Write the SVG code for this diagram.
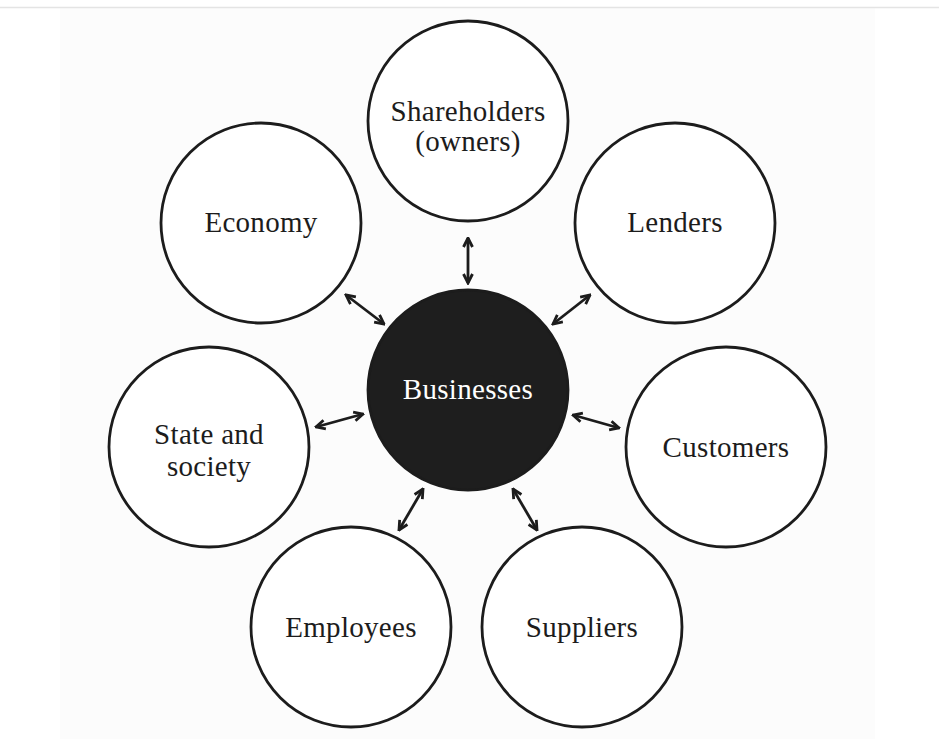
<svg xmlns="http://www.w3.org/2000/svg" width="939" height="739" viewBox="0 0 939 739">
<defs>
<style>
.node circle{fill:#ffffff;stroke:#1c1c1c;stroke-width:2.8}
.node text{font-family:"Liberation Serif","DejaVu Serif",serif;font-size:29px;fill:#1c1c1c;text-anchor:middle;letter-spacing:0.3px}
#businesses circle{fill:#1e1e1e}
#businesses text{fill:#ffffff}
.conn line{stroke:#1c1c1c;stroke-width:2.8;marker-start:url(#ah);marker-end:url(#ah)}
</style>
<marker id="ah" viewBox="0 0 12 12" refX="10.5" refY="6" markerWidth="12" markerHeight="12" markerUnits="userSpaceOnUse" orient="auto-start-reverse">
<path d="M1.5,1.5 L10.5,6 L1.5,10.5" fill="none" stroke="#1c1c1c" stroke-width="2.8" stroke-linejoin="miter"/>
</marker>
</defs>
<rect x="0" y="0" width="939" height="739" fill="#ffffff"/>
<rect x="60" y="8" width="815" height="731" fill="#fcfcfc"/>
<line x1="0" y1="7.5" x2="939" y2="7.5" stroke="#e4e4e4" stroke-width="1.5"/>
<g id="connectors" class="conn">
<line x1="468" y1="238" x2="468" y2="283"/>
<line x1="346" y1="295" x2="384" y2="324"/>
<line x1="590" y1="295" x2="553" y2="324"/>
<line x1="316" y1="427" x2="363" y2="414"/>
<line x1="573" y1="415" x2="619" y2="428"/>
<line x1="423" y1="489" x2="399" y2="530"/>
<line x1="513" y1="489" x2="537" y2="530"/>
</g>
<g id="shareholders" class="node">
<circle cx="468" cy="121" r="100"/>
<text x="468" y="121">Shareholders</text>
<text x="468" y="151">(owners)</text>
</g>
<g id="economy" class="node">
<circle cx="261" cy="223" r="100"/>
<text x="261" y="232">Economy</text>
</g>
<g id="lenders" class="node">
<circle cx="675" cy="223" r="100"/>
<text x="675" y="232">Lenders</text>
</g>
<g id="businesses" class="node">
<circle cx="468" cy="390" r="100"/>
<text x="468" y="399">Businesses</text>
</g>
<g id="state" class="node">
<circle cx="209" cy="447" r="100"/>
<text x="209" y="444">State and</text>
<text x="209" y="476">society</text>
</g>
<g id="customers" class="node">
<circle cx="726" cy="447" r="100"/>
<text x="726" y="457">Customers</text>
</g>
<g id="employees" class="node">
<circle cx="351" cy="627" r="100"/>
<text x="351" y="637">Employees</text>
</g>
<g id="suppliers" class="node">
<circle cx="582" cy="627" r="100"/>
<text x="582" y="637">Suppliers</text>
</g>
</svg>
